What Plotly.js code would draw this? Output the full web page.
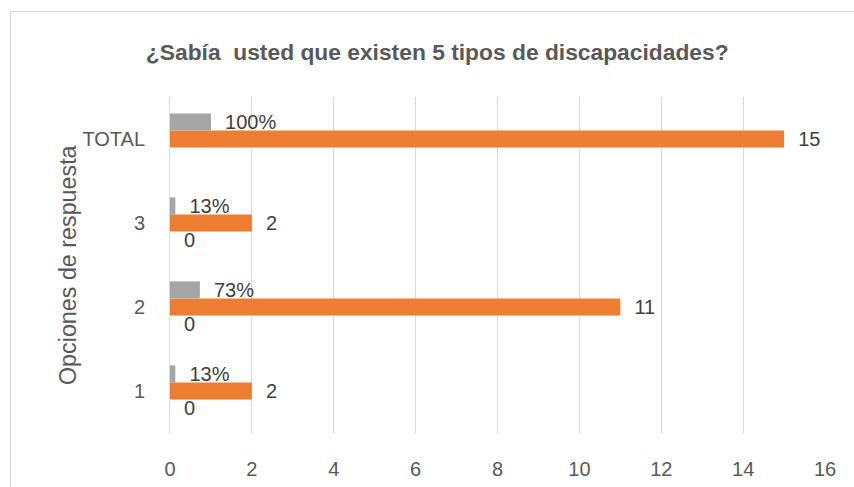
<!DOCTYPE html>
<html>
<head>
<meta charset="utf-8">
<script src="https://cdn.plot.ly/plotly-3.0.1.min.js"></script>
<style>
html,body{margin:0;padding:0;background:#fff;overflow:hidden;}
#frame{position:absolute;left:10px;top:11px;width:900px;height:600px;border:1px solid #d9d9d9;box-sizing:border-box;}
#chart{position:absolute;left:0;top:0;width:854px;height:487px;}
</style>
</head>
<body>
<div id="frame"></div>
<div id="chart"></div>
<script>
// Data
const categories = ['1', '2', '3', 'TOTAL'];
const frecuencia = [2, 11, 2, 15];
const porcentaje = [0.13, 0.73, 0.13, 1.0];
const porcentajeLabels = ['13%', '73%', '13%', '100%'];
const serieCero = [0, 0, 0, null];
const xTicks = [0, 2, 4, 6, 8, 10, 12, 14, 16];

const pad = '\u00A0\u00A0';
const labelFont = {family: 'Liberation Sans, Arial, sans-serif', size: 20, color: '#404040'};

const traces = [
  {
    type: 'bar', orientation: 'h', name: 'cero',
    y: categories, x: serieCero,
    text: serieCero.map(v => v === null ? '' : pad + v),
    textposition: 'outside', constraintext: 'none', cliponaxis: false,
    textfont: labelFont,
    marker: {color: '#4472C4'}, hoverinfo: 'skip'
  },
  {
    type: 'bar', orientation: 'h', name: 'Frecuencia',
    y: categories, x: frecuencia,
    text: frecuencia.map(v => pad + v),
    textposition: 'outside', constraintext: 'none', cliponaxis: false,
    textfont: labelFont,
    marker: {color: '#ED7D31'}, hoverinfo: 'skip'
  },
  {
    type: 'bar', orientation: 'h', name: 'Porcentaje',
    y: categories, x: porcentaje,
    text: porcentajeLabels.map(v => pad + v),
    textposition: 'outside', constraintext: 'none', cliponaxis: false,
    textfont: labelFont,
    marker: {color: '#A5A5A5'}, hoverinfo: 'skip'
  }
];

const layout = {
  width: 854, height: 487,
  margin: {l: 170, r: 29, t: 97, b: 54, pad: 0},
  paper_bgcolor: 'rgba(0,0,0,0)',
  plot_bgcolor: 'rgba(0,0,0,0)',
  showlegend: false,
  barmode: 'group',
  bargap: 0.39,
  bargroupgap: 0,
  font: {family: 'Liberation Sans, Arial, sans-serif', color: '#595959'},
  title: {
    text: '<b>¿Sabía  usted que existen 5 tipos de discapacidades?</b>',
    font: {family: 'Liberation Sans, Arial, sans-serif', size: 22.8, color: '#595959'},
    x: 0.512, xanchor: 'center', y: 0.893, yanchor: 'middle'
  },
  xaxis: {
    range: [0, 16],
    tickvals: xTicks,
    ticktext: xTicks.map(String),
    showgrid: true, gridcolor: '#d9d9d9', gridwidth: 1,
    zeroline: false, showline: false,
    ticks: '', ticklabelstandoff: 22,
    tickfont: {size: 20, color: '#595959'}
  },
  yaxis: {
    type: 'category',
    categoryorder: 'array', categoryarray: categories,
    showgrid: false, zeroline: false,
    showline: true, linecolor: '#d9d9d9', linewidth: 1,
    ticks: '', ticklabelstandoff: 20,
    tickfont: {size: 20, color: '#595959'}
  },
  annotations: [{
    text: 'Opciones de respuesta',
    xref: 'paper', yref: 'paper',
    x: -0.1557, y: 0.5, xanchor: 'center', yanchor: 'middle',
    textangle: -90, showarrow: false,
    font: {size: 23.3, color: '#595959'}
  }]
};

Plotly.newPlot('chart', traces, layout, {displayModeBar: false, staticPlot: true});
</script>
</body>
</html>
